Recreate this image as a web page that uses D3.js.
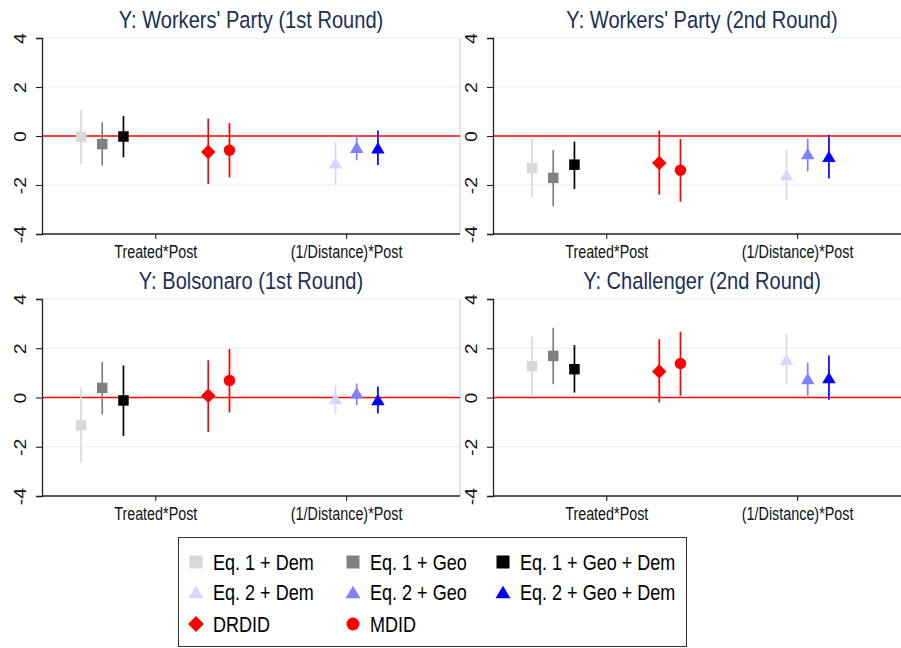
<!DOCTYPE html>
<html>
<head>
<meta charset="utf-8">
<script src="https://cdn.jsdelivr.net/npm/d3@7"></script>
<style>
  html, body { margin: 0; padding: 0; background: #ffffff; }
  svg { display: block; font-family: "Liberation Sans", Arial, Helvetica, sans-serif; }
</style>
</head>
<body>
<svg id="chart" width="901" height="648"></svg>
<script>
// ---------------- DATA ----------------
const panelTitles = [
  "Y: Workers' Party (1st Round)",
  "Y: Workers' Party (2nd Round)",
  "Y: Bolsonaro (1st Round)",
  "Y: Challenger (2nd Round)"
];
const seriesNames = [
  "Eq. 1 + Dem", "Eq. 1 + Geo", "Eq. 1 + Geo + Dem",
  "Eq. 2 + Dem", "Eq. 2 + Geo", "Eq. 2 + Geo + Dem",
  "DRDID", "MDID"
];
// x slot of each series (order as seriesNames)
const seriesSlots = [1, 2, 3, 13, 14, 15, 7, 8];
const categoryLabels = ["Treated*Post", "(1/Distance)*Post"];
const categorySlots = [4.5, 13.5];
const yTickValues = [-4, -2, 0, 2, 4];
const yTickLabels = ["-4", "-2", "0", "2", "4"];

// Panel 1: Workers' Party (1st Round)
const estWP1 = [-0.03, -0.33, -0.02, -1.10, -0.46, -0.48, -0.65, -0.58];
const loWP1  = [-1.13, -1.21, -0.87, -1.99, -0.99, -1.18, -1.96, -1.69];
const hiWP1  = [ 1.07,  0.56,  0.82, -0.24,  0.04,  0.22,  0.71,  0.53];
// Panel 2: Workers' Party (2nd Round)
const estWP2 = [-1.31, -1.71, -1.17, -1.58, -0.72, -0.83, -1.10, -1.40];
const loWP2  = [-2.50, -2.87, -2.16, -2.60, -1.44, -1.73, -2.39, -2.69];
const hiWP2  = [-0.10, -0.57, -0.23, -0.56, -0.10,  0.05,  0.22, -0.12];
// Panel 3: Bolsonaro (1st Round)
const estBO1 = [-1.13,  0.39, -0.12, -0.04,  0.19, -0.08,  0.07,  0.69];
const loBO1  = [-2.64, -0.69, -1.56, -0.65, -0.31, -0.65, -1.40, -0.61];
const hiBO1  = [ 0.37,  1.44,  1.30,  0.49,  0.57,  0.45,  1.51,  1.97];
// Panel 4: Challenger (2nd Round)
const estCH2 = [ 1.27,  1.69,  1.15,  1.55,  0.77,  0.81,  1.06,  1.38];
const loCH2  = [ 0.09,  0.54,  0.20,  0.53,  0.07, -0.09, -0.20,  0.07];
const hiCH2  = [ 2.47,  2.83,  2.13,  2.58,  1.42,  1.71,  2.37,  2.67];

// ---------------- STYLE ----------------
const seriesColors = ["#d9d9d9", "#808080", "#000000",
                      "#d6d6ff", "#8080ff", "#0000ff",
                      "#ff0000", "#ff0000"];
const seriesShapes = ["square", "square", "square",
                      "triangle", "triangle", "triangle",
                      "diamond", "circle"];
const NARROW = 0.82;

const panelData = [
  {est: estWP1, lo: loWP1, hi: hiWP1},
  {est: estWP2, lo: loWP2, hi: hiWP2},
  {est: estBO1, lo: loBO1, hi: hiBO1},
  {est: estCH2, lo: loCH2, hi: hiCH2}
];
const panelBoxes = [
  {x: 42,  y: 38,  w: 418, h: 196, titleY: 28},
  {x: 493, y: 38,  w: 418, h: 196, titleY: 28},
  {x: 42,  y: 299, w: 418, h: 197, titleY: 289},
  {x: 493, y: 299, w: 418, h: 197, titleY: 289}
];

const svg = d3.select("#chart");

function shapePath(shape, s) {
  if (shape === "square") {
    const h = s / 2;
    return `M${-h},${-h}H${h}V${h}H${-h}Z`;
  }
  if (shape === "triangle") {
    const w = s / 2, hh = s * 0.42;
    return `M0,${-hh}L${w},${hh}L${-w},${hh}Z`;
  }
  if (shape === "diamond") {
    const h = s / 2;
    return `M0,${-h}L${h},0L0,${h}L${-h},0Z`;
  }
  const r = s / 2;
  return `M${r},0A${r},${r} 0 1,1 ${-r},0A${r},${r} 0 1,1 ${r},0Z`;
}
const markerSize = {square: 10.5, triangle: 13.5, diamond: 14.5, circle: 11.5};

panelBoxes.forEach((b, pi) => {
  const d = panelData[pi];
  const g = svg.append("g").attr("transform", `translate(${b.x},${b.y})`);

  const x = d3.scaleLinear().domain([-0.84, 18.87]).range([0, b.w]);
  const y = d3.scaleLinear().domain([-4, 4]).range([b.h, 0]);

  const clipId = "clip" + pi;
  g.append("clipPath").attr("id", clipId)
    .append("rect").attr("x", 0).attr("y", -8).attr("width", b.w).attr("height", b.h + 16);

  // grid lines
  g.append("g").selectAll("line")
    .data(yTickValues.filter(v => v !== 0 && v !== -4))
    .join("line")
    .attr("x1", 0).attr("x2", b.w)
    .attr("y1", v => y(v)).attr("y2", v => y(v))
    .attr("stroke", "#e6eef0").attr("stroke-width", 1.2);

  // right border of plot region
  g.append("line")
    .attr("x1", b.w).attr("x2", b.w).attr("y1", 0).attr("y2", b.h)
    .attr("stroke", "#c8c8c8").attr("stroke-width", 1);

  // zero reference line
  g.append("line")
    .attr("x1", 0).attr("x2", b.w)
    .attr("y1", y(0)).attr("y2", y(0))
    .attr("stroke", "#ff0000").attr("stroke-width", 1.4);

  // y axis
  const yAxis = d3.axisLeft(y).tickValues(yTickValues)
    .tickFormat((v, i) => yTickLabels[i]).tickSize(6).tickPadding(0);
  const ya = g.append("g").call(yAxis);
  ya.attr("font-family", null).attr("font-size", null);
  ya.select(".domain").attr("stroke", "#222").attr("stroke-width", 1.3);
  ya.selectAll(".tick line").attr("stroke", "#222").attr("stroke-width", 1.1);
  ya.selectAll(".tick text")
    .attr("x", 0).attr("dy", null).attr("y", 0)
    .attr("text-anchor", "middle")
    .style("font-size", "19.5px").attr("fill", "#111")
    .attr("transform", `translate(-16,0) scale(${NARROW},1) rotate(-90)`);

  // x axis
  const xAxis = d3.axisBottom(x).tickValues(categorySlots)
    .tickFormat((v, i) => categoryLabels[i]).tickSize(5).tickSizeOuter(0).tickPadding(8);
  const xa = g.append("g").attr("transform", `translate(0,${b.h})`).call(xAxis);
  xa.attr("font-family", null).attr("font-size", null);
  xa.select(".domain").attr("stroke", "#222").attr("stroke-width", 1.3)
    .attr("d", `M0,0H${b.w}`);
  xa.selectAll(".tick line").attr("stroke", "#222").attr("stroke-width", 1.1);
  xa.selectAll(".tick text").style("font-size", "17.5px").attr("fill", "#111")
    .attr("dy", null).attr("y", 0)
    .attr("transform", `translate(0,23.5) scale(${NARROW},1)`);

  const pts = g.append("g").attr("clip-path", `url(#${clipId})`);
  pts.selectAll("line.ci")
    .data(seriesNames.map((n, i) => i))
    .join("line")
    .attr("class", "ci")
    .attr("x1", i => x(seriesSlots[i])).attr("x2", i => x(seriesSlots[i]))
    .attr("y1", i => y(d.lo[i])).attr("y2", i => y(d.hi[i]))
    .attr("stroke", i => seriesColors[i]).attr("stroke-width", 1.7);
  pts.selectAll("path.mk")
    .data(seriesNames.map((n, i) => i))
    .join("path")
    .attr("class", "mk")
    .attr("transform", i => `translate(${x(seriesSlots[i])},${y(d.est[i])})`)
    .attr("d", i => shapePath(seriesShapes[i], markerSize[seriesShapes[i]]))
    .attr("fill", i => seriesColors[i]);

  svg.append("text")
    .attr("transform", `translate(${b.x + 209},${b.titleY}) scale(${NARROW},1)`)
    .attr("text-anchor", "middle")
    .style("font-size", "24.5px").attr("fill", "#1e2f52")
    .text(panelTitles[pi]);
});

// ---------------- LEGEND ----------------
const legend = svg.append("g");
legend.append("rect")
  .attr("x", 178.5).attr("y", 537.5).attr("width", 508).attr("height", 109)
  .attr("fill", "#fff").attr("stroke", "#333").attr("stroke-width", 1);

const legendCols = [196, 353, 503];
const legendRows = [562, 592, 624];
const legendSize = {square: 13, triangle: 15, diamond: 16, circle: 13};
seriesNames.forEach((name, k) => {
  const col = k % 3, row = Math.floor(k / 3);
  const cx = legendCols[col], cy = legendRows[row];
  legend.append("path")
    .attr("transform", `translate(${cx},${cy})`)
    .attr("d", shapePath(seriesShapes[k], legendSize[seriesShapes[k]]))
    .attr("fill", seriesColors[k]);
  legend.append("text")
    .attr("transform", `translate(${cx + 17},${cy + 7.8}) scale(${NARROW},1)`)
    .style("font-size", "22px").attr("fill", "#000")
    .text(name);
});
</script>
</body>
</html>
